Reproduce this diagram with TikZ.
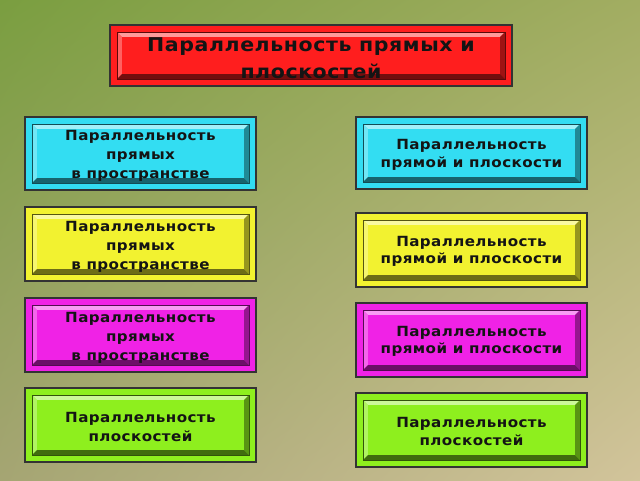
\documentclass[tikz,border=0pt]{standalone}
\usepackage{fontspec}
\usetikzlibrary{shadings}
\setmainfont{DejaVu Sans}[FakeStretch=1.08, LetterSpace=3]
\definecolor{bgA}{RGB}{122,158,64}
\definecolor{bgB}{RGB}{162,173,98}
\definecolor{bgC}{RGB}{165,165,115}
\definecolor{bgD}{RGB}{210,196,155}
\definecolor{cred}{HTML}{FF1E1E}
\definecolor{ccyan}{HTML}{33DDF2}
\definecolor{cyel}{HTML}{F2F230}
\definecolor{cmag}{HTML}{F022E6}
\definecolor{cgrn}{HTML}{8EEF1E}
\tikzset{
  outerline/.style={draw=black!80, line width=1.3pt},
  lbl/.style={anchor=north, inner sep=0pt, align=center, text=black!92},
  titlefont/.style={font=\fontsize{19}{27}\selectfont\bfseries},
  leftfont/.style={font=\fontsize{14}{19}\selectfont\bfseries},
  rightfont/.style={font=\fontsize{14}{17.5}\selectfont\bfseries},
}
\newcommand\bevbox[5]{% #1 x1, #2 y1, #3 x2, #4 y2, #5 colour
  \pgfmathsetmacro\bbAx{#1+7}\pgfmathsetmacro\bbAy{#2+7}%
  \pgfmathsetmacro\bbBx{#3-7}\pgfmathsetmacro\bbBy{#4-7}%
  \pgfmathsetmacro\bbCx{\bbAx+5}\pgfmathsetmacro\bbCy{\bbAy+5}%
  \pgfmathsetmacro\bbDx{\bbBx-5}\pgfmathsetmacro\bbDy{\bbBy-5}%
  \fill[#5] (#1,#2) rectangle (#3,#4);
  \fill[#5!45!white] (\bbAx,\bbAy) -- (\bbBx,\bbAy) -- (\bbDx,\bbCy) -- (\bbCx,\bbCy) -- cycle;
  \fill[#5!70!white] (\bbAx,\bbAy) -- (\bbCx,\bbCy) -- (\bbCx,\bbDy) -- (\bbAx,\bbBy) -- cycle;
  \fill[#5!62!black] (\bbBx,\bbAy) -- (\bbBx,\bbBy) -- (\bbDx,\bbDy) -- (\bbDx,\bbCy) -- cycle;
  \fill[#5!45!black] (\bbAx,\bbBy) -- (\bbBx,\bbBy) -- (\bbDx,\bbDy) -- (\bbCx,\bbDy) -- cycle;
  \fill[#5] (\bbCx,\bbCy) rectangle (\bbDx,\bbDy);
  \draw[#5!35!black, line width=0.6pt] (\bbAx,\bbAy) rectangle (\bbBx,\bbBy);
  \draw[outerline] (#1,#2) rectangle (#3,#4);
}
\begin{document}
\begin{tikzpicture}[x=1pt, y=-1pt]
\useasboundingbox (0,0) rectangle (640,480);
\shade[upper left=bgA, upper right=bgB, lower left=bgC, lower right=bgD] (0,0) rectangle (640,480);
% title
\bevbox{110}{25}{512}{86}{cred}
\node[lbl, titlefont] (title) at (311,37) {Параллельность прямых и\\плоскостей};
% left column
\bevbox{25}{117}{256}{190}{ccyan}
\node[lbl, leftfont] (l1) at (140.5,130) {Параллельность\\прямых \\в пространстве};
\bevbox{25}{207}{256}{281}{cyel}
\node[lbl, leftfont] (l2) at (140.5,221) {Параллельность\\прямых \\в пространстве};
\bevbox{25}{298}{256}{372}{cmag}
\node[lbl, leftfont] (l3) at (140.5,312) {Параллельность\\прямых \\в пространстве};
\bevbox{25}{388}{256}{462}{cgrn}
\node[lbl, leftfont] (l4) at (140.5,412.5) {Параллельность\\плоскостей};
% right column
\bevbox{356}{117}{587}{189}{ccyan}
\node[lbl, rightfont] (r1) at (471.5,139.5) {Параллельность\\прямой и плоскости};
\bevbox{356}{213}{587}{287}{cyel}
\node[lbl, rightfont] (r2) at (471.5,236) {Параллельность\\прямой и плоскости};
\bevbox{356}{303}{587}{377}{cmag}
\node[lbl, rightfont] (r3) at (471.5,326) {Параллельность\\прямой и плоскости};
\bevbox{356}{393}{587}{467}{cgrn}
\node[lbl, rightfont] (r4) at (471.5,417.5) {Параллельность\\плоскостей};
\end{tikzpicture}
\end{document}
